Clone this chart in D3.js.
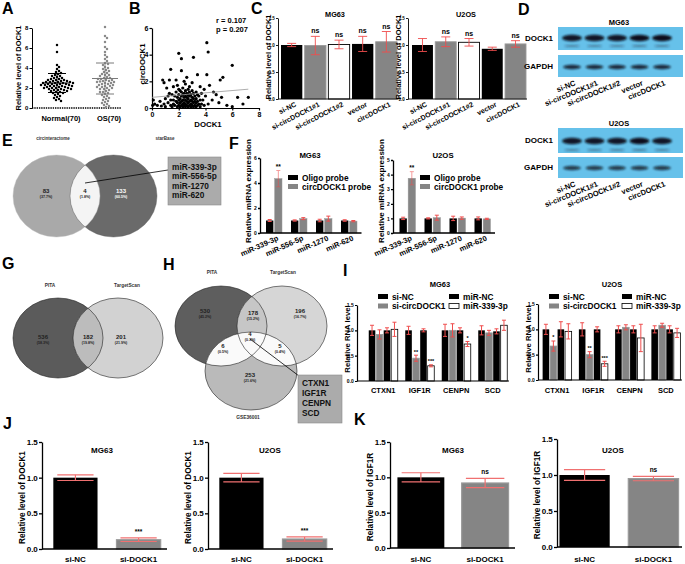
<!DOCTYPE html>
<html><head><meta charset="utf-8">
<script src="https://cdn.jsdelivr.net/npm/d3@7/dist/d3.min.js"></script>
<style>
body{margin:0;background:#fff}
svg{display:block}
</style></head><body>
<svg id="fig" width="685" height="564"></svg>
<script>
// ================= DATA =================
// Panel A
const aGroups = ["Normal(70)", "OS(70)"];
const aNormal = [6.3,5.6,4.3,4.1,3.9,3.7,3.6,3.5,3.4,3.3,3.2,3.2,3.1,3.0,3.0,2.9,2.9,2.8,2.8,2.8,
  2.7,2.7,2.7,2.6,2.6,2.6,2.6,2.5,2.5,2.5,2.5,2.4,2.4,2.4,2.4,2.3,2.3,2.3,2.3,2.2,
  2.2,2.2,2.2,2.1,2.1,2.1,2.0,2.0,2.0,2.0,1.9,1.9,1.9,1.8,1.8,1.8,1.7,1.7,1.6,1.6,
  1.5,1.5,1.4,1.3,1.2,1.1,1.0,0.9,0.8,0.7];
const aOS = [8.1,7.2,7.0,6.6,6.1,5.9,5.6,5.3,5.1,4.9,4.7,4.5,4.4,4.3,4.1,4.0,3.9,3.8,3.7,3.6,
  3.5,3.4,3.3,3.3,3.2,3.1,3.0,3.0,2.9,2.9,2.8,2.8,2.7,2.7,2.65,2.6,2.6,2.5,2.5,2.4,
  2.4,2.3,2.3,2.2,2.2,2.1,2.1,2.0,2.0,1.9,1.9,1.8,1.7,1.6,1.6,1.5,1.4,1.3,1.2,1.1,
  1.0,0.9,0.8,0.7,0.6,0.5,0.4,0.3,0.2,0.1];
const aMean = [2.5, 2.95];
const aSD = [0.95, 1.55];
const aTicks = [0, 2, 4, 6, 8];

// Panel B
const bPoints = [[4.1,4.9],[4.2,4.2],[2.0,4.1],[2.2,3.7],[3.1,3.8],[1.4,2.9],[2.2,2.8],[0.8,2.1],[1.3,2.1],[1.8,2.1],
  [2.6,2.3],[3.4,2.5],[4.1,2.5],[5.1,2.1],[5.3,2.3],[6.0,3.2],[4.8,1.0],[4.5,0.6],[5.6,0.2],[0.1,0.6],
  [0.05,0.2],[0.4,0.2],[0.7,0.15],[1.0,0.7],[1.3,1.1],[5.2,0.8],[6.0,0.1],[6.4,0.8],[6.8,0.3],[7.2,0.8],
  [0.2,0.3],[0.9,1.9],[1.1,1.5],[1.6,1.6],[2.5,1.8],[2.8,1.6],[3.0,1.9],[3.6,1.6],[3.9,1.4],[4.3,1.7],
  [4.6,1.2],[3.3,1.2],[2.1,1.3],[1.9,1.7],[2.4,2.0],[1.5,1.0],[1.2,0.4],[0.9,0.3],[3.8,0.6],[4.2,0.3],
  [4.0,0.9],[3.5,0.9],[5.0,0.4],[1.5,0.1],[1.6,0.3],[1.6,0.6],[1.7,0.9],[1.7,0.2],[1.8,0.5],[1.8,1.2],
  [1.9,0.1],[1.9,0.4],[1.9,0.8],[2.0,0.2],[2.0,0.6],[2.0,1.0],[2.0,1.4],[2.1,0.1],[2.1,0.4],[2.1,0.7],
  [2.2,0.2],[2.2,0.5],[2.2,0.9],[2.2,1.2],[2.3,0.1],[2.3,0.3],[2.3,0.6],[2.3,1.0],[2.3,1.5],[2.4,0.2],
  [2.4,0.4],[2.4,0.8],[2.4,1.1],[2.5,0.1],[2.5,0.3],[2.5,0.6],[2.5,0.9],[2.5,1.3],[2.6,0.2],[2.6,0.5],
  [2.6,0.8],[2.6,1.1],[2.7,0.1],[2.7,0.4],[2.7,0.7],[2.7,1.0],[2.7,1.4],[2.8,0.2],[2.8,0.5],[2.8,0.9],
  [2.8,1.2],[2.9,0.1],[2.9,0.3],[2.9,0.6],[2.9,1.0],[3.0,0.2],[3.0,0.5],[3.0,0.8],[3.0,1.3],[3.1,0.1],
  [3.1,0.4],[3.1,0.7],[3.1,1.1],[3.2,0.2],[3.2,0.5],[3.2,0.9],[3.3,0.1],[3.3,0.4],[3.3,0.7],[3.4,0.2],
  [3.4,0.5],[3.4,1.0],[3.5,0.3],[3.6,0.1],[3.6,0.6],[3.7,0.3],[3.7,1.1],[3.9,0.2],[1.4,0.2],[1.4,0.6],
  [1.2,0.9],[1.0,0.1],[0.6,0.5]];
const bFit = [[0, 0.8], [7.2, 1.41]];
const bStats = ["r = 0.107", "p = 0.207"];
const bTicksX = [0, 2, 4, 6, 8];
const bTicksY = [0, 2, 4, 6];

// Panel C
const cGroups = ["si-NC", "si-circDOCK1#1", "si-circDOCK1#2", "vector", "circDOCK1"];
const cFills = ["black", "gray", "white", "black", "gray"];
const cMG63 = [1.00, 0.99, 1.01, 1.02, 1.06];
const cMG63Err = [0.03, 0.17, 0.08, 0.14, 0.19];
const cMG63Sig = ["", "ns", "ns", "ns", "ns"];
const cU2OS = [1.00, 1.06, 1.05, 0.93, 1.02];
const cU2OSErr = [0.12, 0.09, 0.07, 0.03, 0.06];
const cU2OSSig = ["", "ns", "ns", "", "ns"];
const cTicks = [0, 0.5, 1.0, 1.5];

// Panel D (western blot band strengths)
const dProteins = ["DOCK1", "GAPDH"];
const dMG63Bands = [[0.95, 0.95, 0.95, 1.0, 1.0], [0.85, 0.85, 0.85, 0.85, 0.85]];
const dU2OSBands = [[0.95, 0.95, 0.95, 1.0, 0.95], [0.75, 0.75, 0.75, 0.75, 0.75]];

// Panel E
const eSets = ["circinteractome", "starBase"];
const eCounts = [83, 4, 133];
const ePct = ["(37.7%)", "(1.8%)", "(60.5%)"];
const eShared = ["miR-339-3p", "miR-556-5p", "miR-1270", "miR-620"];

// Panel F
const fMiR = ["miR-339-3p", "miR-556-5p", "miR-1270", "miR-620"];
const fSeries = ["Oligo probe", "circDOCK1 probe"];
const fMG63 = [[1.0, 1.0, 1.0, 1.0], [4.35, 1.15, 1.15, 0.95]];
const fMG63Err = [[0.08, 0.05, 0.1, 0.06], [0.65, 0.08, 0.2, 0.05]];
const fU2OS = [[1.0, 1.0, 1.0, 1.0], [3.75, 1.05, 1.02, 0.97]];
const fU2OSErr = [[0.08, 0.04, 0.15, 0.1], [0.45, 0.17, 0.08, 0.04]];
const fSig = [["", "", "", ""], ["**", "", "", ""]];

// Panel G
const gSets = ["PITA", "TargetScan"];
const gCounts = [536, 182, 201];
const gPct = ["(58.3%)", "(19.8%)", "(21.9%)"];

// Panel H
const hSets = ["PITA", "TargetScan", "GSE36001"];
const hRegions = ["A", "AB", "B", "ABC", "AC", "BC", "C"];
const hCounts = [530, 178, 196, 4, 6, 5, 253];
const hPct = ["(45.2%)", "(15.2%)", "(16.7%)", "(0.3%)", "(0.5%)", "(0.4%)", "(21.6%)"];
const hShared = ["CTXN1", "IGF1R", "CENPN", "SCD"];

// Panel I
const iGenes = ["CTXN1", "IGF1R", "CENPN", "SCD"];
const iSeries = ["si-NC", "si-circDOCK1", "miR-NC", "miR-339-3p"];
const iFills = ["black", "gray", "black", "white"];
const iMG63 = [[1.0, 1.0, 1.0, 1.0], [0.92, 0.45, 1.0, 0.95], [1.0, 1.0, 1.0, 0.98], [1.02, 0.30, 0.73, 1.10]];
const iMG63Err = [[0.1, 0.08, 0.12, 0.09], [0.09, 0.06, 0.13, 0.05], [0.05, 0.03, 0.05, 0.05], [0.14, 0.02, 0.05, 0.1]];
const iMG63Sig = [["", "", "", ""], ["", "**", "", ""], ["", "", "", ""], ["", "***", "*", ""]];
const iU2OS = [[1.0, 1.0, 1.0, 1.0], [0.67, 0.5, 1.04, 1.08], [1.0, 1.0, 1.0, 1.0], [0.96, 0.32, 0.83, 0.93]];
const iU2OSErr = [[0.1, 0.13, 0.07, 0.07], [0.1, 0.06, 0.05, 0.04], [0.15, 0.05, 0.07, 0.07], [0.15, 0.05, 0.27, 0.09]];
const iU2OSSig = [["", "", "", ""], ["*", "**", "", ""], ["", "", "", ""], ["", "***", "", ""]];
const iTicks = [0, 0.5, 1.0, 1.5];

// Panels J, K
const jkGroups = ["si-NC", "si-DOCK1"];
const jkFills = ["black", "gray"];
const jMG63 = [1.0, 0.13], jMG63Err = [0.04, 0.025];
const jU2OS = [1.0, 0.14], jU2OSErr = [0.06, 0.03];
const jSig = ["", "***"];
const kMG63 = [1.0, 0.92], kMG63Err = [0.065, 0.065];
const kU2OS = [1.0, 0.95], kU2OSErr = [0.075, 0.03];
const kSig = ["", "ns"];
const jkTicks = [0, 0.5, 1.0, 1.5];

// ================= DRAWING =================
const FONT = "'Liberation Sans', Arial, Helvetica, sans-serif";
const RED = "#ef4d4d";
const GRAY = "#858585";
const fillOf = k => k === "black" ? "#000" : k === "gray" ? GRAY : "#fff";
const f1 = d3.format(".1f"), f0 = d3.format("d");

const svg = d3.select("#fig").attr("font-family", FONT).attr("font-weight", "bold");
svg.append("rect").attr("width", 685).attr("height", 564).attr("fill", "#fff");
const defs = svg.append("defs");
defs.append("filter").attr("id", "blur").attr("x", "-50%").attr("y", "-50%").attr("width", "200%").attr("height", "200%")
  .append("feGaussianBlur").attr("stdDeviation", 1.0);

function T(x, y, s, fs, o = {}) {
  const t = svg.append("text").attr("x", x).attr("y", y).text(s)
    .attr("font-size", fs).attr("text-anchor", o.anchor || "middle").attr("fill", o.fill || "#000");
  if (o.rotate != null) t.attr("transform", `rotate(${o.rotate},${x},${y})`);
  if (o.mid) t.attr("dominant-baseline", "central");
  return t;
}
function yAxisAt(x, y, ticks, fmt, fs, sw, tl = 2.5) {
  const a = svg.append("g").attr("transform", `translate(${x},0)`)
    .call(d3.axisLeft(y).tickValues(ticks).tickFormat(fmt).tickSizeInner(tl).tickSizeOuter(0).tickPadding(1.2));
  a.attr("font-family", FONT).attr("font-size", fs).attr("font-weight", "bold");
  a.selectAll(".domain, line").attr("stroke", "#000").attr("stroke-width", sw);
  a.selectAll("text").attr("fill", "#000");
  return a;
}
function hLine(x1, x2, y, sw, o = {}) {
  const l = svg.append("line").attr("x1", x1).attr("x2", x2).attr("y1", y).attr("y2", y)
    .attr("stroke", o.color || "#000").attr("stroke-width", sw);
  if (o.dash) l.attr("stroke-dasharray", o.dash);
  return l;
}
function errBar(cx, y, v, e, cap, sw, color = RED, op = 1) {
  const g = svg.append("g").attr("stroke", color).attr("stroke-width", sw).attr("opacity", op);
  g.append("line").attr("x1", cx).attr("x2", cx).attr("y1", y(v - e)).attr("y2", y(v + e));
  [v - e, v + e].forEach(yy => g.append("line").attr("x1", cx - cap / 2).attr("x2", cx + cap / 2).attr("y1", y(yy)).attr("y2", y(yy)));
}
function bar(x, w, y, v, kind, sw = 0.8) {
  svg.append("rect").attr("x", x).attr("y", y(v)).attr("width", w).attr("height", y(0) - y(v))
    .attr("fill", fillOf(kind)).attr("stroke", kind === "white" ? "#000" : kind === "gray" ? "#9a9a9a" : "none")
    .attr("stroke-width", sw);
}
function letter(s, x, y) { T(x, y, s, 16, { anchor: "start" }); }

// ---------- Panel A ----------
letter("A", 2, 14);
{
  const y = d3.scaleLinear().domain([0, 8]).range([108, 28]);
  const x = d3.scalePoint().domain(aGroups).range([57, 105]);
  yAxisAt(32, y, aTicks, f0, 6, 1);
  hLine(32, 121, 108, 1.3, { dash: "1.4,0.9" });
  T(18, 68, "Relative level of DOCK1", 7.5, { rotate: -90, mid: true });
  aGroups.forEach((g, i) => T(x(g) + 4, 121, g, 7.5));
  const r = 1.25;
  [aNormal, aOS].forEach((vals, gi) => {
    const cx = x(aGroups[gi]);
    const pts = vals.map(v => ({ v, py: y(v) })).sort((a, b) => a.py - b.py);
    const placed = [];
    pts.forEach(p => {
      for (let k = 0; k < 80; k++) {
        const off = (k % 2 ? 1 : -1) * Math.ceil(k / 2) * 1.0;
        const px = cx + off;
        if (placed.every(q => (q.px - px) ** 2 + (q.py - p.py) ** 2 >= (2 * r) ** 2)) { p.px = px; placed.push(p); break; }
      }
    });
    const col = gi === 0 ? "#000" : "#8a8a8a";
    svg.append("g").selectAll("circle").data(placed).join("circle")
      .attr("cx", d => d.px).attr("cy", d => d.py).attr("r", r).attr("fill", col);
    const m = aMean[gi], s = aSD[gi];
    const lc = gi === 0 ? "#000" : "#7a7a7a";
    hLine(cx - 13, cx + 13, y(m), 1, { color: lc });
    hLine(cx - 9, cx + 9, y(m + s), 1, { color: lc });
    hLine(cx - 9, cx + 9, y(m - s), 1, { color: lc });
    svg.append("line").attr("x1", cx).attr("x2", cx).attr("y1", y(m - s)).attr("y2", y(m + s)).attr("stroke", lc).attr("stroke-width", 0.8);
  });
}

// ---------- Panel B ----------
letter("B", 129, 14);
{
  const x = d3.scaleLinear().domain([0, 8]).range([152, 259]);
  const y = d3.scaleLinear().domain([0, 6]).range([108, 28]);
  yAxisAt(152, y, bTicksY, f0, 7, 1.2);
  const ax = svg.append("g").attr("transform", "translate(0,108)")
    .call(d3.axisBottom(x).tickValues(bTicksX).tickFormat(f0).tickSizeInner(2.5).tickSizeOuter(0).tickPadding(1.5));
  ax.attr("font-family", FONT).attr("font-size", 7).attr("font-weight", "bold");
  ax.selectAll(".domain, line").attr("stroke", "#000").attr("stroke-width", 1.2);
  T(142, 64, "circDOCK1", 7.8, { rotate: -90, mid: true });
  T(208, 127, "DOCK1", 7.8);
  svg.append("g").selectAll("circle").data(bPoints).join("circle")
    .attr("cx", d => x(d[0])).attr("cy", d => y(d[1])).attr("r", 1.6).attr("fill", "#000");
  svg.append("line").attr("x1", x(bFit[0][0])).attr("y1", y(bFit[0][1])).attr("x2", x(bFit[1][0])).attr("y2", y(bFit[1][1]))
    .attr("stroke", "#999").attr("stroke-width", 0.8);
  T(216, 23, bStats[0], 7.5, { anchor: "start" });
  T(216, 32, bStats[1], 7.5, { anchor: "start" });
}

// ---------- Panel C ----------
letter("C", 251, 14);
function panelC(vals, errs, sig, axisX, range, title, titleX) {
  const y = d3.scaleLinear().domain([0, 1.5]).range([99, 18]);
  const x = d3.scaleBand().domain(cGroups).range(range).paddingInner(0.1);
  cGroups.forEach((g, i) => {
    bar(x(g), x.bandwidth(), y, vals[i], cFills[i], 0.9);
    const cx = x(g) + x.bandwidth() / 2;
    errBar(cx, y, vals[i], errs[i], 9, 0.9);
    if (sig[i]) T(cx, y(vals[i] + errs[i]) - 3, sig[i], 7);
    T(cx + 5, 106, g, 7, { anchor: "end", rotate: -27 });
  });
  yAxisAt(axisX, y, cTicks, f1, 4.5, 0.9, 2);
  hLine(axisX, range[1] + 1, 99, 0.9);
  T(axisX - 10, 57, "Relative level of DOCK1", 7.5, { rotate: -90, mid: true });
  T(titleX, 17, title, 7.3);
}
panelC(cMG63, cMG63Err, cMG63Sig, 278, [281, 397], "MG63", 335);
panelC(cU2OS, cU2OSErr, cU2OSSig, 408, [412, 526], "U2OS", 466);

// ---------- Panel D ----------
letter("D", 518, 15);
function blot(bands, rows, title, titleY, labelY) {
  const lx = d3.scalePoint().domain(cGroups).range([572, 662]);
  T(619, titleY, title, 7.5);
  rows.forEach((r, ri) => {
    svg.append("rect").attr("x", 558).attr("y", r.y0).attr("width", 125).attr("height", r.y1 - r.y0).attr("fill", "#66c1ea");
    T(553, (r.y0 + r.y1) / 2, dProteins[ri], 8, { anchor: "end", mid: true });
    const g = svg.append("g").attr("filter", "url(#blur)");
    cGroups.forEach((c, ci) => {
      const s = bands[ri][ci];
      g.append("ellipse").attr("cx", lx(c)).attr("cy", r.band).attr("rx", r.w / 2).attr("ry", r.h / 2)
        .attr("fill", "#0a0f1c").attr("opacity", s);
      if (r.faint) g.append("ellipse").attr("cx", lx(c)).attr("cy", r.faint).attr("rx", r.w / 2.6).attr("ry", 1.1)
        .attr("fill", "#1a2233").attr("opacity", 0.45 * s);
    });
  });
  cGroups.forEach(c => T(lx(c) + 4, labelY, c, 7.5, { anchor: "end", rotate: -22 }));
}
blot(dMG63Bands, [{ y0: 27, y1: 50, band: 38, faint: 46, w: 20, h: 6.5 }, { y0: 55, y1: 77, band: 67, w: 18, h: 4.5 }], "MG63", 25, 85);
blot(dU2OSBands, [{ y0: 128, y1: 153, band: 141, faint: 150, w: 20, h: 6.5 }, { y0: 157, y1: 178, band: 168, w: 18, h: 4.5 }], "U2OS", 126, 186);

// ---------- Venn helpers ----------
let clipId = 0;
function ell(c, fill, clip) {
  const e = svg.append("ellipse").attr("cx", c.cx).attr("cy", c.cy).attr("rx", c.rx).attr("ry", c.ry).attr("fill", fill);
  if (clip) e.attr("clip-path", `url(#${clip})`);
  return e;
}
function clipOf(c) {
  const id = "clip" + (clipId++);
  defs.append("clipPath").attr("id", id).append("ellipse").attr("cx", c.cx).attr("cy", c.cy).attr("rx", c.rx).attr("ry", c.ry);
  return id;
}
function outline(c, col, sw) {
  svg.append("ellipse").attr("cx", c.cx).attr("cy", c.cy).attr("rx", c.rx).attr("ry", c.ry)
    .attr("fill", "none").attr("stroke", col).attr("stroke-width", sw);
}
function vennLabel(x, y, n, p, col = "#222") {
  T(x, y, String(n), 6, { fill: col });
  T(x, y + 4.5, p, 3.6, { fill: col });
}
function geneBox(x, y, w, h, lines, lineY0, dy) {
  svg.append("rect").attr("x", x).attr("y", y).attr("width", w).attr("height", h).attr("fill", "#ababab").attr("stroke", "#8a8a8a").attr("stroke-width", 0.6);
  lines.forEach((s, i) => T(x + 4, lineY0 + i * dy, s, 8.3, { anchor: "start", fill: "#111" }));
}

// ---------- Panel E ----------
letter("E", 2, 146);
{
  const L = { cx: 56.5, cy: 196, rx: 43.5, ry: 41 }, R = { cx: 113.5, cy: 196, rx: 43.5, ry: 41 };
  ell(L, "#a9a9a9"); ell(R, "#6a6a6a");
  ell(R, "#f4f4f4", clipOf(L));
  outline(L, "#bdbdbd", 0.4); outline(R, "#5a5a5a", 0.4);
  T(53, 140, eSets[0], 4.5, { fill: "#333" });
  T(165, 140, eSets[1], 4.5, { fill: "#333" });
  vennLabel(46, 193, eCounts[0], ePct[0]);
  vennLabel(85, 193, eCounts[1], ePct[1]);
  vennLabel(121, 193, eCounts[2], ePct[2], "#fff");
  svg.append("line").attr("x1", 85).attr("y1", 183).attr("x2", 168).attr("y2", 170).attr("stroke", "#000").attr("stroke-width", 0.8);
  geneBox(168, 157, 53, 48, eShared, 170, 9.4);
}

// ---------- Panel F ----------
letter("F", 229, 149);
function panelF(vals, errs, axisX, xRange, yMax, yTop, ticks, title, titleX, legX) {
  const y = d3.scaleLinear().domain([0, yMax]).range([233, yTop]);
  const x0 = d3.scaleBand().domain(fMiR).range(xRange);
  const x1 = d3.scaleBand().domain(fSeries).range([-8, 8]).paddingInner(0.15);
  fSeries.forEach((s, si) => fMiR.forEach((m, mi) => {
    const cx = x0(m) + x0.bandwidth() / 2 + x1(s);
    bar(cx, x1.bandwidth(), y, vals[si][mi], si ? "gray" : "black", 0.5);
    errBar(cx + x1.bandwidth() / 2, y, vals[si][mi], errs[si][mi], 4, 1.0, RED, si && mi === 0 ? 0.55 : 1);
    if (fSig[si][mi]) T(cx + x1.bandwidth() / 2, y(vals[si][mi] + errs[si][mi]) - 2, fSig[si][mi], 6.5);
  }));
  fMiR.forEach(m => T(x0(m) + x0.bandwidth() / 2 + 5, 240, m, 7.5, { anchor: "end", rotate: -24 }));
  yAxisAt(axisX, y, ticks, f0, 5, 1.3, 2);
  hLine(axisX, xRange[1], 233, 1.3);
  T(axisX - 12, 191, "Relative miRNA expression", 8, { rotate: -90, mid: true });
  T(titleX, 158, title, 7.8);
  fSeries.forEach((s, si) => {
    svg.append("rect").attr("x", legX).attr("y", 175 + si * 9).attr("width", 10).attr("height", 5).attr("fill", si ? GRAY : "#000");
    T(legX + 14, 180.5 + si * 9, s, 8.3, { anchor: "start" });
  });
}
panelF(fMG63, fMG63Err, 260, [261.5, 361.5], 6, 158, [0, 2, 4, 6], "MG63", 310, 288);
panelF(fU2OS, fU2OSErr, 393, [395, 495], 5, 160, [0, 1, 2, 3, 4, 5], "U2OS", 443, 420);

// ---------- Panel G ----------
letter("G", 2, 269);
{
  const L = { cx: 58, cy: 338, rx: 45, ry: 40 }, R = { cx: 118, cy: 338, rx: 45, ry: 40 };
  ell(L, "#5b5b5b"); ell(R, "#d2d2d2");
  ell(R, "#bcbcbc", clipOf(L));
  outline(L, "#222", 0.6); outline(R, "#222", 0.6);
  T(50, 287, gSets[0], 4.8, { fill: "#333" });
  T(127, 287, gSets[1], 4.8, { fill: "#333" });
  vennLabel(43, 339, gCounts[0], gPct[0]);
  vennLabel(88, 339, gCounts[1], gPct[1]);
  vennLabel(121, 339, gCounts[2], gPct[2]);
}

// ---------- Panel H ----------
letter("H", 163, 270);
{
  const A = { cx: 221, cy: 326, rx: 46, ry: 40 }, B = { cx: 282, cy: 326, rx: 45, ry: 40 }, C = { cx: 251, cy: 371, rx: 46, ry: 39 };
  ell(A, "#5e5e5e"); ell(B, "#d6d6d6"); ell(C, "#bababa");
  const cA = clipOf(A), cB = clipOf(B);
  ell(B, "#c6c6c6", cA);
  ell(C, "#fafafa", cA);
  ell(C, "#fafafa", cB);
  [A, B, C].forEach(c => outline(c, "#222", 0.6));
  T(212, 274, hSets[0], 4.8, { fill: "#333" });
  T(283, 274, hSets[1], 4.8, { fill: "#333" });
  T(248, 419, hSets[2], 4.8, { fill: "#333" });
  const pos = [[205, 313], [253, 315], [300, 313], [250, 336], [223, 348], [280, 348], [250, 377]];
  hRegions.forEach((r, i) => vennLabel(pos[i][0], pos[i][1], hCounts[i], hPct[i]));
  svg.append("line").attr("x1", 250).attr("y1", 339).attr("x2", 299).attr("y2", 376).attr("stroke", "#000").attr("stroke-width", 0.8);
  geneBox(298, 375, 44, 48, hShared, 386, 10);
}

// ---------- Panel I ----------
letter("I", 343, 276);
function panelI(vals, errs, sig, axisX, xRange, yBot, yTop, title, titleX, legX1, legX2) {
  const y = d3.scaleLinear().domain([0, 1.5]).range([yBot, yTop]);
  const x0 = d3.scaleBand().domain(iGenes).range(xRange);
  const x1 = d3.scaleBand().domain(iSeries).range([-14.5, 14.5]).paddingInner(0.12);
  iSeries.forEach((s, si) => iGenes.forEach((g, gi) => {
    const bx = x0(g) + x0.bandwidth() / 2 + x1(s);
    const v = vals[si][gi];
    bar(bx, x1.bandwidth(), y, v, iFills[si], 0.8);
    errBar(bx + x1.bandwidth() / 2, y, v, errs[si][gi], 4, 1.0);
    if (sig[si][gi]) T(bx + x1.bandwidth() / 2, y(v + errs[si][gi]) - 1.5, sig[si][gi], 5.5);
  }));
  iGenes.forEach(g => T(x0(g) + x0.bandwidth() / 2, 393, g, 7.5));
  yAxisAt(axisX, y, iTicks, f1, 5, 1.2, 2);
  hLine(axisX, xRange[1] - 2, yBot, 1.2);
  T(axisX - 10, 339, "Relative RNA level", 7.7, { rotate: -90, mid: true });
  T(titleX, 287, title, 7.5);
  iSeries.forEach((s, si) => {
    const lx = si < 2 ? legX1 : legX2, ly = 294 + (si % 2) * 9.5;
    svg.append("rect").attr("x", lx).attr("y", ly).attr("width", 10).attr("height", 5)
      .attr("fill", fillOf(iFills[si])).attr("stroke", iFills[si] === "white" ? "#000" : "none").attr("stroke-width", 0.8);
    T(lx + 14, ly + 5.5, s, 8.3, { anchor: "start" });
  });
}
panelI(iMG63, iMG63Err, iMG63Sig, 357, [365, 511], 381, 305, "MG63", 440, 378, 449);
panelI(iU2OS, iU2OSErr, iU2OSSig, 538, [539, 684], 380, 304, "U2OS", 612, 549, 622);

// ---------- Panels J & K ----------
letter("J", 3, 429);
letter("K", 354, 425);
function panelJK(vals, errs, sig, axisX, xRange, pi, po, yBot, yTop, label, title, titleX) {
  const y = d3.scaleLinear().domain([0, 1.5]).range([yBot, yTop]);
  const x = d3.scaleBand().domain(jkGroups).range(xRange).paddingInner(pi).paddingOuter(po);
  jkGroups.forEach((g, i) => {
    bar(x(g), x.bandwidth(), y, vals[i], jkFills[i], 1.2);
    const cx = x(g) + x.bandwidth() / 2;
    errBar(cx, y, vals[i], errs[i], x.bandwidth() * 0.82, 1.2, "#f07070");
    if (sig[i]) T(cx, y(vals[i] + errs[i]) - 4, sig[i], 6.5);
    T(cx, 562, g, 8);
  });
  yAxisAt(axisX, y, jkTicks, f1, 8, 1.3, 3);
  hLine(axisX, xRange[1], yBot, 1.3);
  T(axisX - 20, (yBot + yTop) / 2 + 2, label, 8.2, { rotate: -90, mid: true });
  T(titleX, 453, title, 8);
}
panelJK(jMG63, jMG63Err, jSig, 42, [47, 167], 0.3, 0.1, 549, 442, "Relative level of DOCK1", "MG63", 102);
panelJK(jU2OS, jU2OSErr, jSig, 208, [213, 333], 0.3, 0.1, 549, 442, "Relative level of DOCK1", "U2OS", 270);
panelJK(kMG63, kMG63Err, kSig, 390, [391, 515], 0.27, 0.1, 548, 442, "Relative level of IGF1R", "MG63", 453);
panelJK(kU2OS, kU2OSErr, kSig, 557, [556, 682], 0.27, 0.05, 547, 439, "Relative level of IGF1R", "U2OS", 613);
</script></body></html>
